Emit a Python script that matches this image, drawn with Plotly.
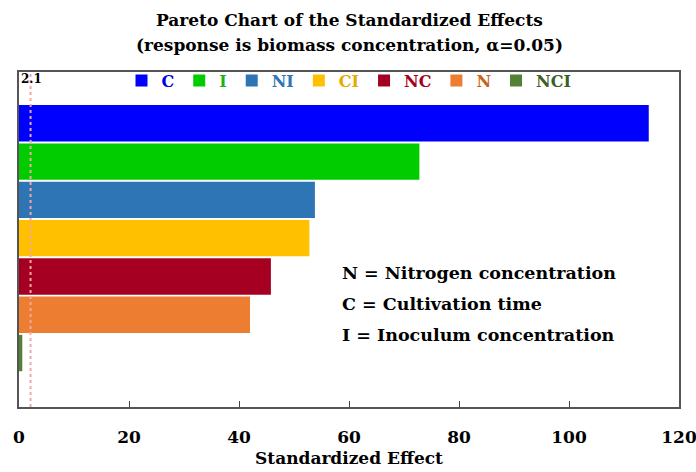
import plotly.graph_objects as go

terms = ["C", "I", "NI", "CI", "NC", "N", "NCI"]
effects = [114.5, 72.8, 53.8, 52.8, 45.8, 42.0, 0.6]
bar_colors = ["#0000FF", "#00CC00", "#2E75B6", "#FFC000", "#A50021", "#ED7D31", "#548235"]
label_colors = ["#0000E0", "#1FB01F", "#2E75B6", "#E8AA00", "#A50021", "#C8641A", "#3B5F2A"]
ref_value = 2.1
x_ticks = [0, 20, 40, 60, 80, 100, 120]
notes = ["N = Nitrogen concentration", "C = Cultivation time", "I = Inoculum concentration"]
title_lines = ["Pareto Chart of the Standardized Effects", "(response is biomass concentration, α=0.05)"]

FONT = "DejaVu Serif"

fig = go.Figure()
for i, (t, v, c, lc) in enumerate(zip(terms, effects, bar_colors, label_colors)):
    fig.add_trace(go.Bar(
        x=[v], y=[i], orientation="h", width=0.95,
        marker=dict(color=c, line=dict(width=0)),
        name=f'<span style="color:{lc}"><b>{t}</b></span>',
        showlegend=True,
    ))

fig.add_shape(type="line", x0=ref_value, x1=ref_value, y0=0, y1=1, yref="paper",
              line=dict(color="#F4A6A6", width=2, dash="dot"), layer="above")
fig.add_annotation(x=0, y=1, xref="paper", yref="paper", text="<b>2.1</b>",
                   showarrow=False, xanchor="left", yanchor="top",
                   font=dict(family=FONT, size=12, color="black"), xshift=0, yshift=2)

for k, n in enumerate(notes):
    fig.add_annotation(x=0.487, y=0.40 - k * 0.0925, xref="paper", yref="paper",
                       text=f"<b>{n}</b>", showarrow=False, xanchor="left", yanchor="middle",
                       font=dict(family=FONT, size=17.5, color="black"))

for k, line in enumerate(title_lines):
    fig.add_annotation(x=0.5, y=1 + (52 - k * 25) / 335, xref="paper", yref="paper",
                       text=f"<b>{line}</b>", showarrow=False, xanchor="center", yanchor="middle",
                       font=dict(family=FONT, size=17, color="black"))

fig.add_annotation(x=60, y=-51 / 335, xref="x", yref="paper", text="<b>Standardized Effect</b>",
                   showarrow=False, xanchor="center", yanchor="middle",
                   font=dict(family=FONT, size=17, color="black"))

fig.update_layout(
    width=696, height=472,
    margin=dict(l=19, r=17, t=72, b=65, autoexpand=False),
    paper_bgcolor="white", plot_bgcolor="white",
    barmode="overlay",
    legend=dict(orientation="h", x=0.5, xanchor="center", y=1.025, yanchor="top",
                bgcolor="rgba(0,0,0,0)", font=dict(family=FONT, size=16),
                itemwidth=30, traceorder="normal"),
    xaxis=dict(range=[0, 120], tickvals=x_ticks, ticktext=[f"<b>{v}</b>" for v in x_ticks],
               ticks="inside", ticklen=6, automargin=False, ticklabelstandoff=14,
               ticklabeloverflow="allow",
               tickcolor="#444", showgrid=False, zeroline=False,
               showline=True, linecolor="#555", linewidth=2, mirror=True,
               tickfont=dict(family=FONT, size=17, color="black")),
    yaxis=dict(range=[7.41, -1.34], showticklabels=False, ticks="", showgrid=False,
               zeroline=False, automargin=False, showline=True, linecolor="#555",
               linewidth=2, mirror=True),
)

fig.write_html("out.html", config={"displayModeBar": False},
               post_script="document.body.style.margin='0px';document.body.style.overflow='hidden';")
